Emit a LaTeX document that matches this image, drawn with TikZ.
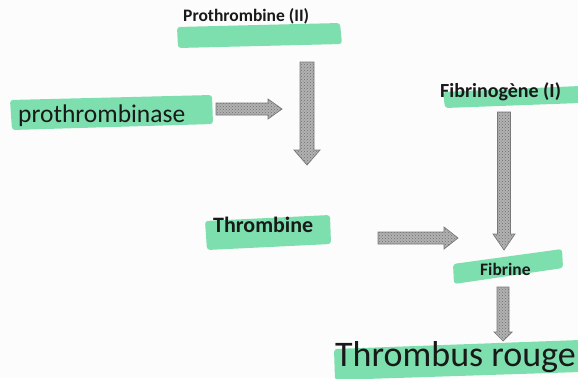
\documentclass[tikz,border=0pt]{standalone}
\usepackage{fontspec}
\setmainfont{Carlito}
\usetikzlibrary{calc,patterns}
\definecolor{hlgreen}{RGB}{112,220,166}
\definecolor{ink}{RGB}{25,25,25}
\definecolor{arrowfill}{RGB}{178,178,178}
\definecolor{arrowdots}{RGB}{110,110,110}
\definecolor{arrowline}{RGB}{120,120,120}
\tikzset{
  hl/.style={fill=hlgreen, opacity=0.9, rounded corners=3pt},
  lbl/.style={inner sep=0pt, anchor=base west, text=ink},
  blk/.style={preaction={fill=arrowfill}, pattern=crosshatch dots, pattern color=arrowdots, draw=arrowline, line width=0.7pt, line join=miter},
}
\newcommand{\dnarrow}[5]{% from #1 to #2, shaft half #3, head half #4, head length #5
  \draw[blk] ($(#1)+(-#3,0)$) -- ($(#1)+(#3,0)$) -- ($(#2)+(#3,-#5)$) -- ($(#2)+(#4,-#5)$) -- (#2) -- ($(#2)+(-#4,-#5)$) -- ($(#2)+(-#3,-#5)$) -- cycle;}
\newcommand{\rtarrow}[5]{%
  \draw[blk] ($(#1)+(0,-#3)$) -- ($(#2)+(-#5,-#3)$) -- ($(#2)+(-#5,-#4)$) -- (#2) -- ($(#2)+(-#5,#4)$) -- ($(#2)+(-#5,#3)$) -- ($(#1)+(0,#3)$) -- cycle;}
\begin{document}
\begin{tikzpicture}[x=1pt,y=-1pt]
\fill[white!98!gray] (0,0) rectangle (578,378);
\useasboundingbox (0,0) rectangle (578,378);
% highlights
\fill[hl] (177,27) -- (340,23) -- (342,44) -- (178,48) -- cycle;
\fill[hl] (10,100) -- (212,95) -- (213,124) -- (12,130) -- cycle;
\fill[hl] (443,92) -- (580,86) -- (580,103) -- (445,108) -- cycle;
\fill[hl] (205,221) -- (330,215) -- (331,244) -- (207,250) -- cycle;
\fill[hl] (453,264) -- (562,249) -- (563,268) -- (454,284) -- cycle;
\fill[hl] (334,349) -- (580,340) -- (580,372) -- (335,380) -- cycle;
% labels
\node[lbl, font=\bfseries\fontsize{17.5}{20}\selectfont] (proth) at (183,21) {Prothrombine (II)};
\node[lbl, font=\fontsize{25.5}{28}\selectfont] (prothase) at (18,122) {prothrombinase};
\node[lbl, font=\bfseries\fontsize{20}{23}\selectfont] (fibrinog) at (440,97) {Fibrinogène (I)};
\node[lbl, font=\bfseries\fontsize{22}{25}\selectfont] (thromb) at (213,232) {Thrombine};
\node[lbl, font=\bfseries\fontsize{17.5}{20}\selectfont] (fibr) at (480,275) {Fibrine};
\node[lbl, font=\fontsize{36}{40}\selectfont] (thrombus) at (335,366) {Thrombus rouge};
% arrow coordinates
\coordinate (a1s) at (216,109);
\coordinate (a1e) at (282,109);
\coordinate (a2s) at (307,62);
\coordinate (a2e) at (307,165);
\coordinate (a3s) at (504,112);
\coordinate (a3e) at (504,250);
\coordinate (a4s) at (378,238);
\coordinate (a4e) at (458,238);
\coordinate (a5s) at (503,287);
\coordinate (a5e) at (503,341);
\rtarrow{a1s}{a1e}{6}{10}{14}
\dnarrow{a2s}{a2e}{7}{13}{15}
\dnarrow{a3s}{a3e}{6.5}{11}{16}
\rtarrow{a4s}{a4e}{6}{11}{14}
\dnarrow{a5s}{a5e}{6}{9}{9}
\end{tikzpicture}
\end{document}
